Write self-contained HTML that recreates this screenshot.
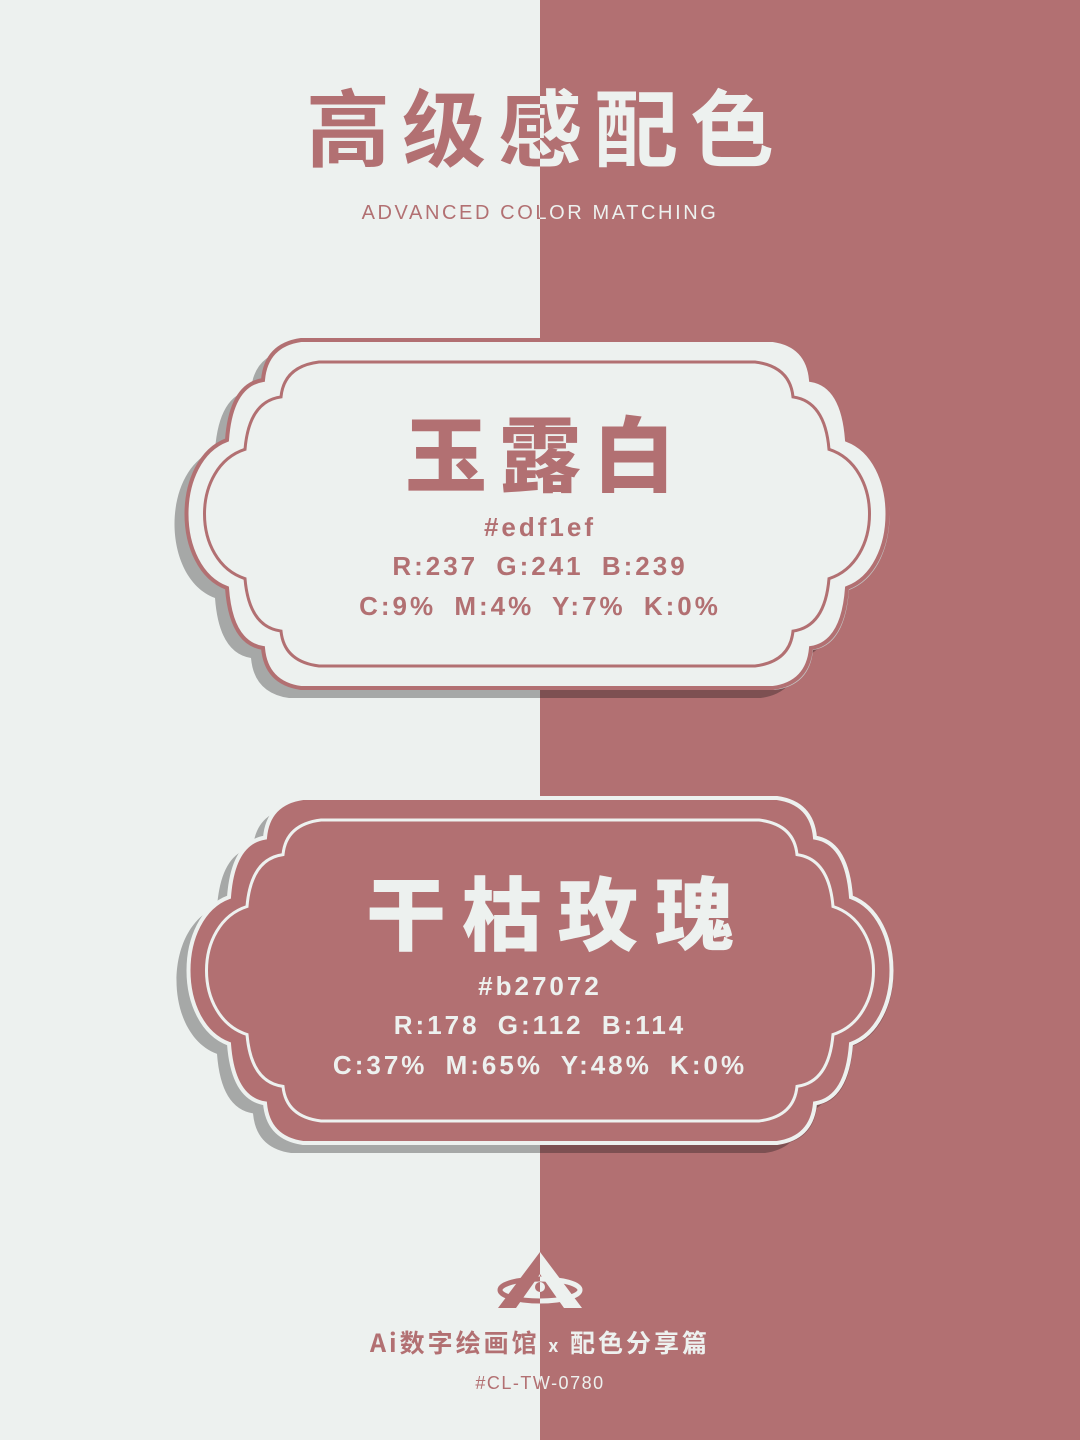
<!DOCTYPE html>
<html><head><meta charset="utf-8">
<style>
html,body{margin:0;padding:0}
body{width:1080px;height:1440px;position:relative;overflow:hidden;background:#edf1ef;font-family:"Liberation Sans","Noto Sans CJK SC",sans-serif}
.right{position:absolute;left:540px;top:0;width:540px;height:1440px;background:#b27072}
.layer{position:absolute;left:0;top:0;width:1080px;height:1440px}
.L{clip-path:inset(0 540px 0 0)}
.R{clip-path:inset(0 0 0 540px)}
.t{position:absolute;left:0;width:1080px;text-align:center;white-space:nowrap}
.title{top:70px;font-size:84px;font-weight:bold;letter-spacing:12px;text-indent:12px;font-family:"Noto Sans CJK SC",sans-serif;line-height:110px}
.sub{top:200px;font-size:20px;letter-spacing:2.6px;line-height:26px}
.foot1{top:1324px;font-size:25px;font-weight:bold;letter-spacing:3px;font-family:"Noto Sans CJK SC",sans-serif;line-height:36px}
.foot2{top:1372px;font-size:18px;letter-spacing:1.5px;line-height:22px}
.L .t{color:#b27072}.R .t{color:#edf1ef}
.big{font-family:"Noto Sans CJK SC",sans-serif;font-weight:900;font-size:82px;letter-spacing:12px;text-indent:12px;line-height:100px}
.info{font-size:26px;font-weight:bold;letter-spacing:3px;line-height:32px}
svg{position:absolute;left:0;top:0}
</style></head>
<body>
<div class="right"></div>
<svg width="1080" height="1440">
<defs>
<clipPath id="cl"><rect x="0" y="0" width="540" height="1440"/></clipPath>
<clipPath id="cr"><rect x="540" y="0" width="540" height="1440"/></clipPath>
</defs>
<g id="frames"></g>
<g id="logoL" clip-path="url(#cl)" fill="#b27072">
<path d="M540 1252 L498 1308 L516 1308 L540 1274 L564 1308 L582 1308 Z"/>
<ellipse cx="540" cy="1290" rx="40" ry="11" fill="none" stroke="#b27072" stroke-width="5"/>
<circle cx="540" cy="1287" r="5"/>
</g>
<g id="logoR" clip-path="url(#cr)" fill="#edf1ef">
<path d="M540 1252 L498 1308 L516 1308 L540 1274 L564 1308 L582 1308 Z"/>
<ellipse cx="540" cy="1290" rx="40" ry="11" fill="none" stroke="#edf1ef" stroke-width="5"/>
<circle cx="540" cy="1287" r="5"/>
</g>
</svg>

<div class="layer L">
<div class="t title">高级感配色</div>
<div class="t sub">ADVANCED COLOR MATCHING</div>
<div class="t foot1">Ai数字绘画馆 <span style="font-size:18px">x</span> 配色分享篇</div>
<div class="t foot2">#CL-TW-0780</div>
</div>
<div class="layer R">
<div class="t title">高级感配色</div>
<div class="t sub">ADVANCED COLOR MATCHING</div>
<div class="t foot1">Ai数字绘画馆 <span style="font-size:18px">x</span> 配色分享篇</div>
<div class="t foot2">#CL-TW-0780</div>
</div>

<div class="layer" style="color:#b27072">
<div class="t big" style="top:400px">玉露白</div>
<div class="t info" style="top:511px">#edf1ef</div>
<div class="t info" style="top:550px;word-spacing:8px">R:237 G:241 B:239</div>
<div class="t info" style="top:590px;word-spacing:8px">C:9% M:4% Y:7% K:0%</div>
</div>
<div class="layer" style="color:#edf1ef">
<div class="t big" style="top:860px;font-size:80px;letter-spacing:16px;text-indent:36px">干枯玫瑰</div>
<div class="t info" style="top:970px">#b27072</div>
<div class="t info" style="top:1009px;word-spacing:8px">R:178 G:112 B:114</div>
<div class="t info" style="top:1049px;word-spacing:8px">C:37% M:65% Y:48% K:0%</div>
</div>

<script>
function shape(L,T,R,B){
  var cy=(T+B)/2, h=B-T, s=h/348;
  var p="M"+(L+115)+" "+T+" H"+(R-115);
  p+=" Q"+(R-80)+" "+(T+5*s)+" "+(R-77)+" "+(T+40*s);
  p+=" Q"+(R-45)+" "+(T+45*s)+" "+(R-41)+" "+(T+100*s);
  p+=" C"+(R+13)+" "+(T+120*s)+" "+(R+13)+" "+(B-120*s)+" "+(R-41)+" "+(B-100*s);
  p+=" Q"+(R-45)+" "+(B-45*s)+" "+(R-77)+" "+(B-40*s);
  p+=" Q"+(R-80)+" "+(B-5*s)+" "+(R-115)+" "+B;
  p+=" H"+(L+115);
  p+=" Q"+(L+80)+" "+(B-5*s)+" "+(L+77)+" "+(B-40*s);
  p+=" Q"+(L+45)+" "+(B-45*s)+" "+(L+41)+" "+(B-100*s);
  p+=" C"+(L-13)+" "+(B-120*s)+" "+(L-13)+" "+(T+120*s)+" "+(L+41)+" "+(T+100*s);
  p+=" Q"+(L+45)+" "+(T+45*s)+" "+(L+77)+" "+(T+40*s);
  p+=" Q"+(L+80)+" "+(T+5*s)+" "+(L+115)+" "+T+" Z";
  return p;
}
var NS="http://www.w3.org/2000/svg", g=document.getElementById('frames');
function add(d,attrs,name){
  var e=document.createElementNS(NS,'path');
  e.setAttribute('d',d);
  for(var k in attrs)e.setAttribute(k,attrs[k]);
  
  
  g.appendChild(e);
}
function card(L,T,R,B,fill,line,name){
  var sh=shape(L-12,T+10,R-12,B+10);
  add(sh,{fill:'#a6a8a7','clip-path':'url(#cl)'},name+'-shadow-left');
  add(sh,{fill:'#7d5052','clip-path':'url(#cr)'},name+'-shadow-right');
  add(shape(L+2,T+2,R+2,B+2),{fill:fill==='#edf1ef'?'#c3c6c5':'#8e5a5d'},name+'-edge');
  add(shape(L,T,R,B),{fill:fill,stroke:line,'stroke-width':4},name+'-outer-frame');
  add(shape(L+18,T+22,R-18,B-22),{fill:'none',stroke:line,'stroke-width':3},name+'-inner-frame');
}
card(186,340,888,688,'#edf1ef','#b27072','card-1');
card(188,798,892,1143,'#b27072','#edf1ef','card-2');
</script>
</body></html>
